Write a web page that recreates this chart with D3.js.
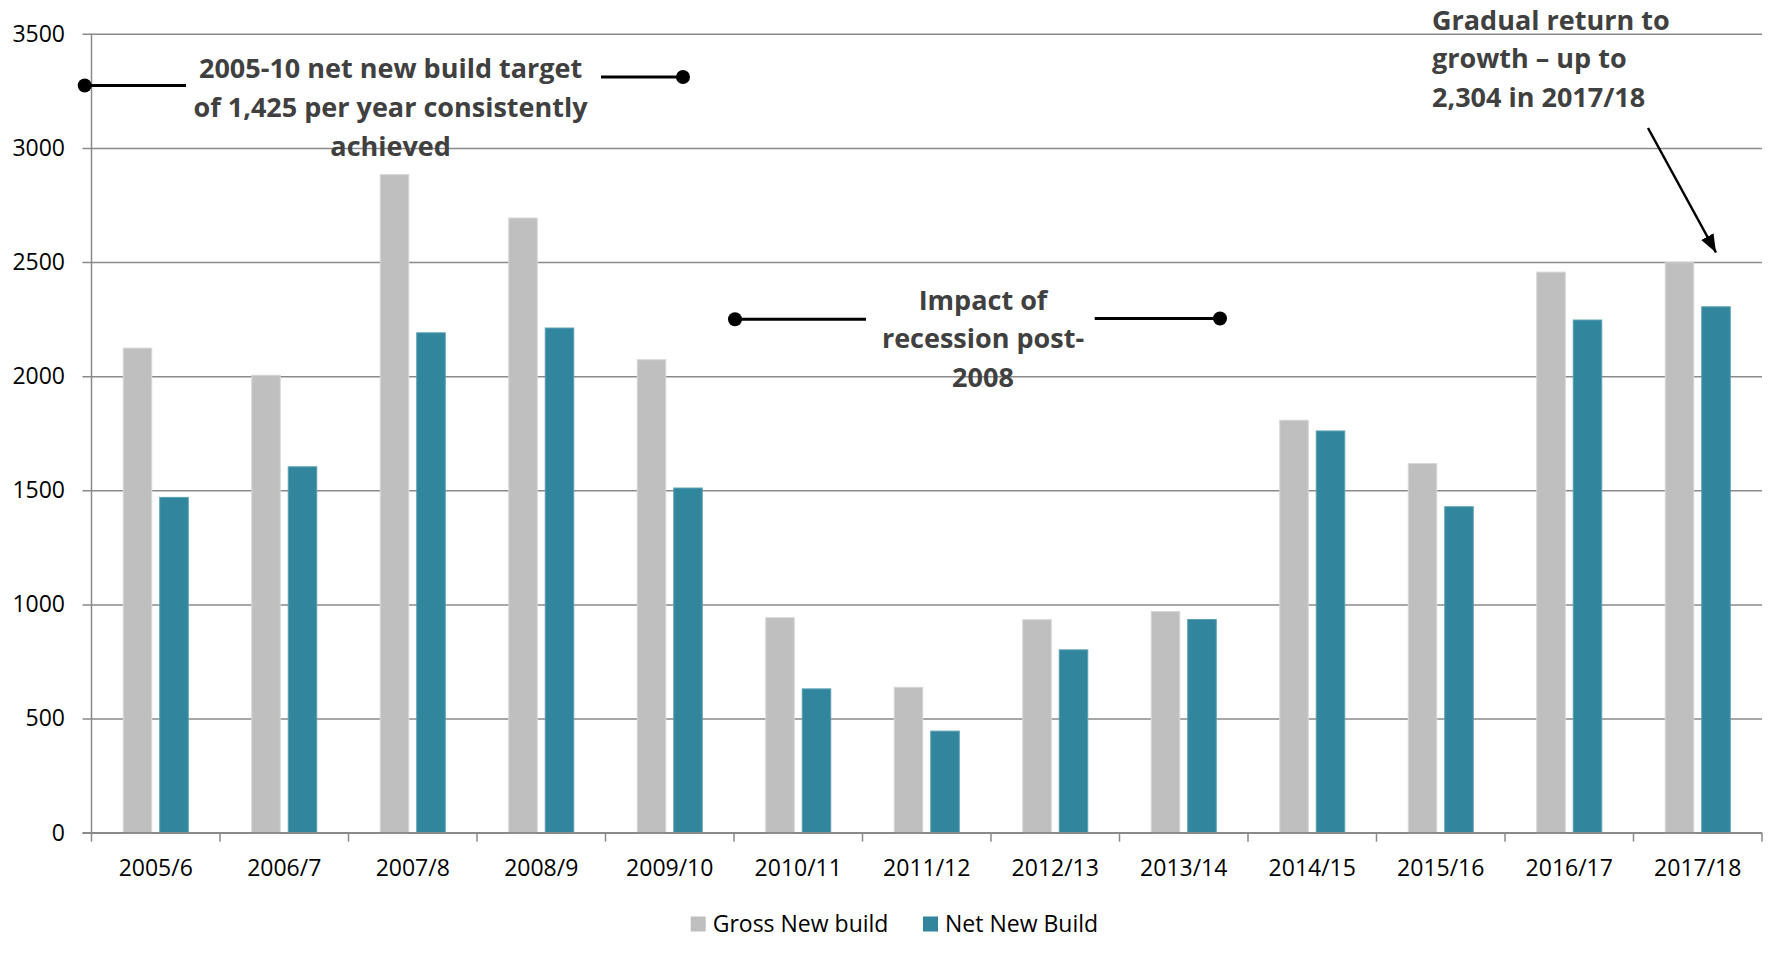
<!DOCTYPE html>
<html>
<head>
<meta charset="utf-8">
<script src="https://cdn.jsdelivr.net/npm/d3@7"></script>
<style>
	html, body { margin: 0; padding: 0; background: #fff; }
	svg { display: block; }
	.tick text { font-family: "Open Sans", sans-serif; font-size: 23px; fill: #000; }
	.note { font-family: "Open Sans", sans-serif; font-weight: bold; font-size: 27px; fill: #404040; }
	.legend text { font-family: "Open Sans", sans-serif; font-size: 23px; fill: #000; }
</style>
</head>
<body>
<div id="chart"></div>
<script>
// housing completions per financial year
var categories = ["2005/6", "2006/7", "2007/8", "2008/9", "2009/10", "2010/11", "2011/12",
	"2012/13", "2013/14", "2014/15", "2015/16", "2016/17", "2017/18"];
var grossNewBuild = [2123, 2004, 2883, 2693, 2072, 942, 637, 933, 969, 1807, 1617, 2456, 2497];
var netNewBuild = [1469, 1603, 2190, 2211, 1510, 630, 445, 801, 934, 1760, 1428, 2246, 2304];
var seriesNames = ["Gross New build", "Net New Build"];
var seriesColors = ["#bfbfbf", "#31859c"];
var seriesStrokes = ["#d6d6d6", "#5a9fb2"];
var yTicks = [0, 500, 1000, 1500, 2000, 2500, 3000, 3500];

var width = 1769, height = 962;
var margins = { top: 33.8, right: 7, bottom: 129.3, left: 91.5 };
var innerW = width - margins.left - margins.right;
var innerH = height - margins.top - margins.bottom;

var svg = d3.select("#chart")
	.append("svg")
	.attr("width", width)
	.attr("height", height);

var defs = svg.append("defs");
defs.append("marker")
	.attr("id", "arrowHead")
	.attr("markerUnits", "userSpaceOnUse")
	.attr("viewBox", "0 0 18 14")
	.attr("refX", 18)
	.attr("refY", 7)
	.attr("markerWidth", 18)
	.attr("markerHeight", 14)
	.attr("orient", "auto")
	.append("path")
	.attr("d", "M0,0L18,7L0,14Z")
	.attr("fill", "#000");

var g = svg.append("g")
	.attr("transform", "translate(" + margins.left + "," + margins.top + ")");

var x0 = d3.scaleBand()
	.domain(categories)
	.range([0, innerW])
	.padding(0);
var groupW = 65;
var x1 = d3.scaleBand()
	.domain(d3.range(seriesNames.length))
	.range([(x0.bandwidth() - groupW) / 2, (x0.bandwidth() + groupW) / 2])
	.paddingInner(0.219);
var y = d3.scaleLinear()
	.domain([0, 3500])
	.range([innerH, 0]);

// gridlines with the short left ticks
var yAxis = g.append("g")
	.attr("class", "y axis")
	.call(d3.axisLeft(y).tickValues(yTicks).tickSize(-innerW - 9).tickPadding(17).tickFormat(d3.format("d")));
yAxis.select(".domain").remove();
yAxis.selectAll(".tick line")
	.attr("x1", -9)
	.attr("x2", innerW)
	.attr("stroke", "#8a8a8a")
	.attr("stroke-width", 1.5);
yAxis.selectAll(".tick text").attr("x", -26.5);

g.append("line")
	.attr("x1", 0).attr("x2", 0)
	.attr("y1", 0).attr("y2", innerH)
	.attr("stroke", "#8a8a8a")
	.attr("stroke-width", 1.5);

// bars
var rows = categories.map(function(c, i) { return { cat: c, vals: [grossNewBuild[i], netNewBuild[i]] }; });
var groups = g.selectAll(".grp")
	.data(rows)
	.enter().append("g")
	.attr("class", "grp")
	.attr("transform", function(d) { return "translate(" + x0(d.cat) + ",0)"; });
groups.selectAll("rect")
	.data(function(d) { return d.vals; })
	.enter().append("rect")
	.attr("x", function(d, i) { return x1(i); })
	.attr("width", x1.bandwidth())
	.attr("y", function(d) { return y(d); })
	.attr("height", function(d) { return innerH - y(d); })
	.attr("fill", function(d, i) { return seriesColors[i]; })
	.attr("stroke", function(d, i) { return seriesStrokes[i]; })
	.attr("stroke-width", 1);

// x axis with ticks on category boundaries
var xAxis = g.append("g")
	.attr("class", "x axis")
	.attr("transform", "translate(0," + innerH + ")")
	.call(d3.axisBottom(x0).tickSize(0).tickPadding(0));
xAxis.select(".domain").remove();
xAxis.selectAll(".tick text")
	.attr("y", 35)
	.attr("dy", "0.35em");
var bounds = categories.map(function(c) { return x0(c); }).concat([innerW]);
xAxis.selectAll(".bound")
	.data(bounds)
	.enter().append("line")
	.attr("class", "bound")
	.attr("x1", function(d) { return d; })
	.attr("x2", function(d) { return d; })
	.attr("y1", 0).attr("y2", 9)
	.attr("stroke", "#8a8a8a")
	.attr("stroke-width", 1.5);
xAxis.append("line")
	.attr("x1", -9).attr("x2", innerW)
	.attr("y1", 0).attr("y2", 0)
	.attr("stroke", "#8a8a8a")
	.attr("stroke-width", 1.5);

// legend
var legend = svg.append("g").attr("class", "legend");
var legendX = [690.7, 923];
seriesNames.forEach(function(name, i) {
	legend.append("rect")
		.attr("x", legendX[i]).attr("y", 916.5)
		.attr("width", 15).attr("height", 15)
		.attr("fill", seriesColors[i]);
	legend.append("text")
		.attr("x", legendX[i] + 22).attr("y", 924)
		.attr("dy", "0.35em")
		.text(name);
});

// annotations
function noteBlock(lines, x, y0, anchor) {
	var t = svg.append("text")
		.attr("class", "note")
		.attr("text-anchor", anchor);
	lines.forEach(function(l, i) {
		t.append("tspan").attr("x", x).attr("y", y0 + i * 38.8).text(l);
	});
}
function dotLine(xa, xb, yy, dotX) {
	svg.append("line")
		.attr("x1", xa).attr("x2", xb)
		.attr("y1", yy).attr("y2", yy)
		.attr("stroke", "#000")
		.attr("stroke-width", 3);
	svg.append("circle")
		.attr("cx", dotX).attr("cy", yy)
		.attr("r", 7)
		.attr("fill", "#000");
}

noteBlock(["2005-10 net new build target", "of 1,425 per year consistently", "achieved"], 390.6, 78.3, "middle");
dotLine(84.7, 186, 85.5, 84.7);
dotLine(601, 683, 77, 683);

noteBlock(["Impact of", "recession post-", "2008"], 983, 309.5, "middle");
dotLine(735, 866, 319.3, 735);
dotLine(1094.7, 1220, 318.5, 1220);

noteBlock(["Gradual return to", "growth \u2013 up to", "2,304 in 2017/18"], 1432, 29.5, "start");
var tipX = margins.left + x0("2017/18") + x1(1) + x1.bandwidth() / 2;
svg.append("line")
	.attr("x1", 1648).attr("y1", 128)
	.attr("x2", tipX).attr("y2", 252.5)
	.attr("stroke", "#000")
	.attr("stroke-width", 2.5)
	.attr("marker-end", "url(#arrowHead)");
</script>
</body>
</html>
